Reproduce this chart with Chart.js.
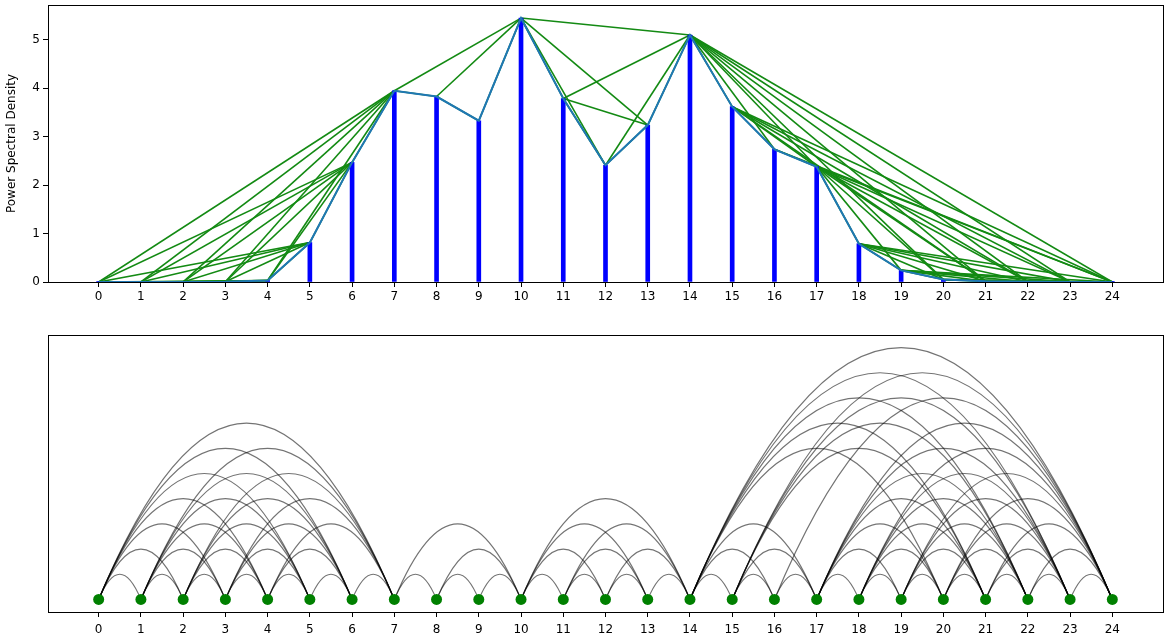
<!DOCTYPE html>
<html lang="en">
<head>
	<meta charset="UTF-8">
	<title>PSD visibility graph</title>
	<script src="https://cdn.jsdelivr.net/npm/chart.js"></script>
	<style>
		body { margin: 0; background: #fff; }
		.panel { position: absolute; left: 0; width: 1170px; height: 320px; }
	</style>
</head>
<body>
	<div class="panel" style="top:0"><canvas id="psdChart" width="1170" height="320"></canvas></div>
	<div class="panel" style="top:320px"><canvas id="arcChart" width="1170" height="320"></canvas></div>
	<script>
	// frequency bins and the PSD
	const freqs = [0, 1, 2, 3, 4, 5, 6, 7, 8, 9, 10, 11, 12, 13, 14, 15, 16, 17, 18, 19, 20, 21, 22, 23, 24];
	const psd = [0.0002, 0.0008, 0.002, 0.006, 0.03, 0.815, 2.47, 3.95, 3.83, 3.33, 5.45, 3.79, 2.41, 3.24, 5.10,
		3.62, 2.74, 2.38, 0.79, 0.24, 0.05, 0.015, 0.006, 0.002, 0.0005];
	const yTicks = [0, 1, 2, 3, 4, 5];

	const font = { family: 'DejaVu Sans', size: 12 };

	// natural visibility: a and b are linked if every bin between them is under the straight line
	function isVisible(a, b) {
		for(let c = a + 1; c < b; c++) {
			const lineY = psd[b] + (psd[a] - psd[b]) * (freqs[b] - freqs[c]) / (freqs[b] - freqs[a]);
			if(psd[c] >= lineY) return false;
		}
		return true;
	}
	const edges = [];
	for(let a = 0; a < psd.length; a++) {
		for(let b = a + 1; b < psd.length; b++) {
			if(isVisible(a, b)) edges.push([a, b]);
		}
	}

	const framePlugin = {
		id: 'frame',
		afterDraw(chart) {
			const { ctx, chartArea: a } = chart;
			ctx.save();
			ctx.strokeStyle = '#000';
			ctx.lineWidth = 1;
			ctx.strokeRect(a.left + 0.5, a.top + 0.5, a.right - a.left, a.bottom - a.top);
			ctx.restore();
		}
	};

	function xAxis(height, pad) {
		return {
			type: 'linear',
			min: -1.2,
			max: 25.2,
			offset: false,
			afterBuildTicks: s => { s.ticks = freqs.map(v => ({ value: v })); },
			afterFit: s => {
				s.height = height;
				s.paddingLeft = 0;
				s.paddingRight = 0;
			},
			grid: { offset: false, drawOnChartArea: false, drawTicks: true, tickLength: 5, color: '#000', tickColor: '#000' },
			border: { display: false },
			ticks: { color: '#000', font: font, padding: pad, maxRotation: 0, autoSkip: false }
		};
	}

	// top panel: edges, stems, spectrum
	const edgeSets = edges.map(([a, b]) => ({
		type: 'line',
		data: [{ x: freqs[a], y: psd[a] }, { x: freqs[b], y: psd[b] }],
		borderColor: '#138a13',
		borderWidth: 1.6,
		pointRadius: 0,
		order: 3
	}));
	const psdPoints = freqs.map((f, i) => ({ x: f, y: psd[i] }));

	new Chart(document.getElementById('psdChart'), {
		type: 'line',
		data: {
			datasets: [...edgeSets, {
				type: 'bar',
				data: psdPoints,
				backgroundColor: '#0000ff',
				barThickness: 4,
				order: 2
			}, {
				type: 'line',
				data: psdPoints,
				borderColor: '#1f77b4',
				borderWidth: 2,
				pointRadius: 0,
				order: 1
			}]
		},
		options: {
			responsive: false,
			animation: false,
			events: [],
			layout: { padding: { top: 5, right: 7, left: 0, bottom: 0 } },
			plugins: { legend: { display: false }, tooltip: { enabled: false } },
			scales: {
				x: xAxis(38, 3),
				y: {
					min: 0,
					max: 5.72,
					afterBuildTicks: s => { s.ticks = yTicks.map(v => ({ value: v })); },
					afterFit: s => {
						s.width = 48;
						s.paddingTop = 0;
						s.paddingBottom = 0;
					},
					grid: { drawOnChartArea: false, drawTicks: true, tickLength: 5, color: '#000', tickColor: '#000' },
					border: { display: false },
					title: { display: true, text: 'Power Spectral Density', color: '#000', font: font, padding: { top: 5, bottom: 0 } },
					ticks: { color: '#000', font: font, padding: 3 }
				}
			}
		},
		plugins: [framePlugin]
	});

	// bottom panel: arc diagram of the same edges, arc rise = half the span
	const arcPlugin = {
		id: 'arcs',
		beforeDatasetsDraw(chart) {
			const { ctx, scales: { x, y } } = chart;
			const base = y.getPixelForValue(0);
			ctx.save();
			ctx.strokeStyle = 'rgba(0, 0, 0, 0.55)';
			ctx.lineWidth = 1.2;
			edges.forEach(([a, b]) => {
				const x0 = x.getPixelForValue(freqs[a]);
				const x1 = x.getPixelForValue(freqs[b]);
				const rise = base - y.getPixelForValue((freqs[b] - freqs[a]) / 2);
				ctx.beginPath();
				ctx.moveTo(x0, base);
				ctx.quadraticCurveTo((x0 + x1) / 2, base - 2 * rise, x1, base);
				ctx.stroke();
			});
			ctx.restore();
		}
	};

	new Chart(document.getElementById('arcChart'), {
		type: 'scatter',
		data: {
			datasets: [{
				data: freqs.map(f => ({ x: f, y: 0 })),
				backgroundColor: '#008000',
				borderWidth: 0,
				pointRadius: 5.5
			}]
		},
		options: {
			responsive: false,
			animation: false,
			events: [],
			layout: { padding: { top: 15, right: 7, left: 48, bottom: 0 } },
			plugins: { legend: { display: false }, tooltip: { enabled: false } },
			scales: {
				x: xAxis(28, 6),
				y: {
					display: false,
					min: -0.25,
					max: 5.25,
					afterFit: s => { s.paddingTop = 0; s.paddingBottom = 0; }
				}
			}
		},
		plugins: [arcPlugin, framePlugin]
	});
	</script>
</body>
</html>
